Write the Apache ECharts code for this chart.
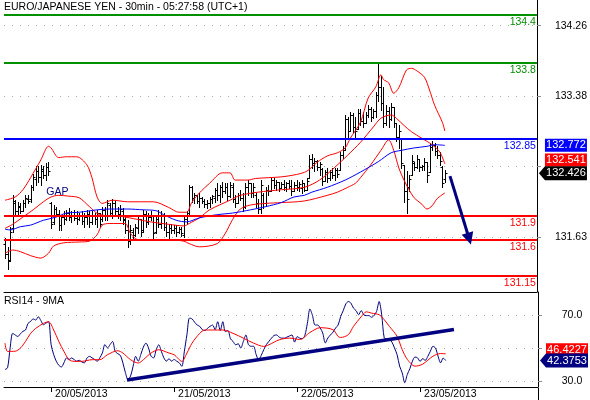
<!DOCTYPE html>
<html><head><meta charset="utf-8">
<script src="https://cdn.jsdelivr.net/npm/echarts@6/dist/echarts.min.js"></script>
<style>html,body{margin:0;padding:0;background:#fff}#c{width:590px;height:400px}</style>
</head><body><div id="c"></div>
<script>
const titleText = 'EURO/JAPANESE YEN - 30min - 05:27:58 (UTC+1)';
const rsiTitle = 'RSI14 - 9MA';
const dateLabels = ['20/05/2013', '21/05/2013', '22/05/2013', '23/05/2013'];
const dateTickIndex = [18, 66, 114, 162];
const priceTicks = [131.635, 132.51, 133.385, 134.26];
const priceLabelTicks = [131.635, 133.385, 134.26];
const rsiTicks = [30, 50, 70];
const rsiLabelTicks = [30, 70];
const levels = [134.4, 133.8, 132.85, 131.9, 131.6, 131.15];
const levelLabels = ['134.4', '133.8', '132.85', '131.9', '131.6', '131.15'];

// [open, high, low, close] per 30-min bar
const ohlc = [
[131.55,131.62,131.37,131.42],[131.42,131.51,131.24,131.33],[131.35,131.76,131.33,131.70],[131.75,132.16,131.70,132.08],
[132.05,132.09,131.89,131.95],[131.95,132.07,131.91,132.02],[132.00,132.05,131.93,131.96],[131.96,132.09,131.95,132.05],
[132.05,132.155,132.01,132.12],[132.10,132.155,132.05,132.08],[132.10,132.28,132.07,132.25],[132.25,132.42,132.22,132.38],
[132.35,132.51,132.28,132.45],[132.45,132.51,132.32,132.38],[132.38,132.53,132.28,132.48],[132.45,132.51,132.36,132.40],
[132.40,132.55,132.34,132.50],[132.50,132.57,132.40,132.45],[132.05,132.07,131.74,131.80],[131.82,132.03,131.80,131.98],
[131.98,132.01,131.89,131.92],[131.92,131.97,131.72,131.78],[131.78,131.91,131.72,131.88],[131.88,131.95,131.80,131.86],
[131.86,131.97,131.84,131.93],[131.93,131.99,131.84,131.88],[131.88,131.95,131.82,131.90],[131.90,131.97,131.84,131.87],
[131.87,131.95,131.80,131.85],[131.85,131.93,131.84,131.90],[131.90,131.95,131.80,131.83],[131.83,131.93,131.76,131.88],
[131.88,131.97,131.80,131.92],[131.92,131.95,131.76,131.82],[131.82,131.95,131.80,131.90],[131.90,131.93,131.80,131.85],
[131.85,131.97,131.76,131.93],[131.93,131.93,131.76,131.80],[131.85,132.01,131.83,131.97],[131.97,132.01,131.84,131.90],
[131.90,132.09,131.84,132.05],[132.03,132.05,131.89,131.93],[131.93,132.11,131.87,132.06],[132.06,132.08,131.91,131.95],
[131.95,132.01,131.87,131.92],[131.92,132.03,131.84,131.98],[131.96,131.99,131.80,131.84],[131.85,131.91,131.68,131.72],
[131.72,131.84,131.51,131.58],[131.58,131.78,131.55,131.72],[131.70,131.74,131.62,131.66],[131.66,131.80,131.64,131.76],
[131.74,131.89,131.68,131.85],[131.85,131.86,131.64,131.70],[131.72,131.97,131.70,131.92],[131.92,131.95,131.76,131.82],
[131.82,131.93,131.80,131.88],[131.88,131.95,131.84,131.91],[131.90,131.91,131.62,131.68],[131.70,131.91,131.68,131.85],
[131.85,131.97,131.76,131.80],[131.80,131.95,131.74,131.90],[131.90,131.93,131.72,131.76],[131.76,131.82,131.64,131.70],
[131.70,131.80,131.62,131.74],[131.74,131.80,131.68,131.72],[131.72,131.78,131.68,131.75],[131.75,131.78,131.64,131.70],
[131.70,131.76,131.68,131.73],[131.73,131.76,131.64,131.68],[131.66,131.89,131.63,131.85],[131.85,131.95,131.80,131.90],
[131.93,132.28,131.90,132.25],[132.25,132.27,132.07,132.12],[132.12,132.18,132.05,132.15],[132.15,132.16,132.05,132.08],
[132.08,132.18,132.01,132.12],[132.12,132.13,132.05,132.08],[132.08,132.11,132.01,132.04],[132.04,132.09,131.99,132.05],
[132.05,132.13,132.01,132.11],[132.11,132.16,132.05,132.14],[132.12,132.24,132.07,132.22],[132.22,132.30,132.09,132.15],
[132.15,132.28,132.07,132.25],[132.25,132.32,132.13,132.20],[132.20,132.30,132.18,132.26],[132.26,132.30,132.09,132.14],
[132.14,132.32,132.13,132.28],[132.26,132.30,132.07,132.10],[132.10,132.16,132.01,132.05],[132.05,132.18,132.05,132.15],
[132.15,132.22,132.09,132.12],[132.12,132.18,131.95,132.00],[132.00,132.30,131.99,132.25],[132.25,132.34,132.16,132.30],
[132.30,132.30,132.13,132.18],[132.18,132.30,132.13,132.26],[132.16,132.18,132.01,132.05],[132.05,132.11,131.93,131.98],
[131.98,132.34,131.93,132.28],[132.15,132.18,131.99,132.05],[132.05,132.26,132.03,132.22],[132.22,132.28,132.16,132.20],
[132.20,132.38,132.20,132.34],[132.34,132.36,132.24,132.28],[132.28,132.34,132.22,132.32],[132.32,132.32,132.20,132.24],
[132.24,132.32,132.24,132.29],[132.29,132.34,132.22,132.25],[132.25,132.32,132.20,132.30],[132.30,132.34,132.24,132.27],
[132.27,132.34,132.16,132.20],[132.20,132.32,132.20,132.28],[132.28,132.34,132.22,132.25],[132.25,132.32,132.20,132.29],
[132.24,132.34,132.18,132.30],[132.30,132.30,132.20,132.22],[132.22,132.36,132.22,132.33],[132.36,132.65,132.36,132.60],
[132.60,132.67,132.49,132.55],[132.55,132.61,132.45,132.58],[132.58,132.59,132.47,132.50],[132.50,132.57,132.40,132.54],
[132.48,132.49,132.28,132.33],[132.33,132.47,132.33,132.44],[132.44,132.49,132.32,132.36],[132.36,132.47,132.34,132.44],
[132.44,132.49,132.36,132.40],[132.40,132.49,132.34,132.46],[132.46,132.49,132.38,132.42],[132.47,132.69,132.47,132.65],
[132.65,132.76,132.61,132.72],[132.72,133.15,132.72,133.10],[133.10,133.13,132.88,132.95],[132.95,133.19,132.95,133.15],
[133.15,133.17,132.94,133.00],[133.00,133.13,132.88,132.95],[132.98,133.23,132.98,133.18],[133.18,133.23,133.03,133.08],
[133.08,133.19,133.00,133.05],[133.05,133.19,133.05,133.15],[133.15,133.27,133.13,133.22],[133.22,133.25,133.07,133.12],
[133.12,133.23,133.11,133.20],[133.20,133.44,133.13,133.40],[133.40,133.81,133.32,133.50],[133.50,133.63,133.21,133.30],
[133.30,133.50,133.00,133.05],[133.05,133.27,133.03,133.20],[133.20,133.25,133.00,133.10],[133.10,133.30,133.09,133.25],
[133.25,133.25,133.00,133.05],[133.05,133.05,132.82,132.88],[132.88,133.03,132.74,132.95],[132.86,132.86,132.49,132.55],
[132.53,132.53,132.07,132.20],[132.20,132.45,131.93,132.10],[132.25,132.40,132.20,132.35],[132.40,132.65,132.40,132.58],
[132.55,132.57,132.47,132.50],[132.50,132.65,132.49,132.60],[132.60,132.60,132.45,132.50],[132.50,132.53,132.47,132.52],
[132.52,132.61,132.47,132.56],[132.56,132.57,132.32,132.40],[132.44,132.80,132.44,132.75],[132.75,132.82,132.71,132.78],
[132.78,132.80,132.65,132.70],[132.70,132.76,132.61,132.65],[132.65,132.69,132.53,132.58],[132.50,132.51,132.26,132.30],
[132.35,132.47,132.32,132.426]
];

// Bollinger bands (20) and long moving average, [bar index, price]
const bbUpper = [[0,132.09],[4,132.13],[7,132.22],[10,132.37],[14,132.59],[17,132.76],[18,132.74],[21,132.62],[24,132.63],[28,132.63],[32,132.53],[34,132.37],[36,132.13],[38,132.05],[42,132.09],[48,132.07],[58,132.07],[64,132.0],[68,131.94],[71,131.94],[73,132.06],[76,132.18],[80,132.30],[85,132.43],[88,132.43],[90,132.34],[95,132.34],[98,132.36],[108,132.38],[114,132.41],[118,132.45],[122,132.56],[126,132.64],[130,132.68],[133,132.74],[135,132.86],[139,133.06],[142,133.36],[145,133.50],[147,133.65],[148,133.59],[150,133.55],[152,133.42],[154,133.49],[157,133.71],[159,133.73],[161,133.70],[164,133.62],[166,133.46],[168,133.27],[171,133.06],[172,132.95]];
const bbMiddle = [[0,131.74],[3,131.79],[7,131.88],[11,131.97],[15,132.07],[18,132.13],[21,132.15],[25,132.14],[29,132.12],[33,132.01],[37,131.91],[45,131.89],[52,131.85],[57,131.82],[64,131.79],[70,131.77],[72,131.80],[76,131.87],[80,131.97],[88,132.09],[92,132.15],[99,132.19],[108,132.22],[117,132.25],[123,132.34],[129,132.50],[134,132.65],[139,132.81],[144,133.0],[147,133.11],[151,133.15],[153,133.11],[156,133.02],[159,132.94],[163,132.86],[167,132.78],[170,132.69],[172,132.541]];
const bbLower = [[0,131.43],[3,131.47],[6,131.45],[10,131.40],[14,131.37],[17,131.43],[19,131.52],[23,131.56],[29,131.57],[33,131.58],[36,131.66],[38,131.78],[41,131.80],[47,131.80],[49,131.68],[52,131.60],[58,131.60],[64,131.60],[70,131.58],[72,131.55],[76,131.51],[83,131.55],[86,131.67],[89,131.85],[92,131.98],[96,132.03],[102,132.05],[108,132.06],[117,132.08],[126,132.15],[130,132.19],[134,132.25],[137,132.30],[139,132.37],[143,132.53],[147,132.71],[150,132.84],[152,132.71],[154,132.49],[156,132.34],[158,132.22],[160,132.12],[163,132.04],[165,131.98],[167,132.02],[169,132.11],[172,132.18]];
const maLong = [[0,131.73],[2,131.72],[6,131.76],[10,131.78],[15,131.84],[20,131.88],[24,131.93],[29,131.94],[36,131.97],[41,131.98],[48,131.98],[54,131.97],[59,131.96],[62,131.91],[67,131.84],[71,131.82],[76,131.87],[83,131.91],[89,131.93],[96,131.97],[102,132.01],[108,132.06],[113,132.13],[117,132.15],[120,132.19],[126,132.25],[133,132.34],[139,132.44],[146,132.57],[151,132.68],[155,132.71],[160,132.74],[165,132.76],[168,132.78],[172,132.772]];

// RSI(14) per bar and its 9-period average
const rsi = [37,38,50,58.8,57.8,56.9,58.5,60,60.8,64.8,
66,67.5,66.8,68.8,66.5,64,65,65.8,52,46,
42,39.5,38.5,41,43.9,43,43.9,43,42,42.5,
41.5,41,43.9,44.9,44,43,42,44,47,52,
50,52,53.9,47.9,46.5,45.5,41,35,31,33,
39,44.9,42,46,50.5,52.9,50,45,44,48.9,
51.9,48,44,42,43.5,42,43,42,41,38.9,
48,58,68,67.5,65.5,63.8,63,61,60.5,61.8,
63,63.8,61,65.8,60.5,65.8,59.8,60.5,55.5,53.9,
51.9,52.5,49.9,53.9,57.8,52,51,51,46,42.9,
45.5,49,52,54,55.9,57.5,57.8,56.5,55.9,55.9,
56.5,57.2,57.8,53.5,56.8,55.9,55.5,57.5,64.8,73.5,
69.5,63.8,63.8,62,59,53,56,57.8,59.5,62,
63.8,69,72.5,76.5,78,77,74,72.5,70,72.5,
70,69.5,69.5,68.5,69.5,72,78,70,56,55.5,
55,53.5,50,46,39,35,29,34,37.5,42,
44.5,44,41.9,43.5,42.5,44.9,48,51,49.9,45,
41,43.9,42.3753];
const rsiMA = [[0,52.9],[1,47.9],[4,48],[6,49.9],[8,53.9],[10,58.8],[12,61.8],[15,64.8],[17,65.8],[19,60.8],[21,53.9],[23,47.9],[25,42.9],[27,41.9],[30,41.9],[34,42.9],[37,42.9],[40,45.9],[44,48.3],[46,46.9],[49,42.9],[52,40.9],[54,42.9],[57,46.9],[60,48.9],[64,46.9],[66,45.9],[69,41.9],[71,46.9],[73,52.9],[76,58.8],[78,60.8],[81,60.8],[85,60.8],[89,58.8],[93,55.9],[97,52.9],[101,50.9],[103,51.9],[107,54.9],[111,55.9],[115,55.1],[119,59.3],[123,62.2],[128,61],[130,56.9],[131,56.3],[134,58],[136,63],[139,68.8],[141,71.8],[143,71],[146,70],[148,67],[150,63],[153,57],[155,49],[157,43.1],[160,39],[163,40.2],[167,45],[170,46.6],[172,46.4227]];

// annotations
const arrowPath = [[174, 132.39], [181.5, 131.61]];
const rsiTrend = [[47.6, 30.7], [175.2, 61.1]];
const gapNote = [20.5, 132.19];

// ---------- layout / style ----------
const FONT = 'Liberation Sans, Arial, sans-serif';
const xMin = -0.39, xMax = 208;
const pMin = 130.948, pMax = 134.58;
const rMin = 26.42, rMax = 83.73;
const levelColors = ['#009000', '#009000', '#0000ff', '#ff0000', '#ff0000', '#ff0000'];
const NAVY = '#000080';

const lastClose = ohlc[ohlc.length - 1][3];
const lastMA = maLong[maLong.length - 1][1];
const lastMid = bbMiddle[bbMiddle.length - 1][1];
const lastRsi = rsi[rsi.length - 1];
const lastRsiMA = rsiMA[rsiMA.length - 1][1];

const tagArrow = 'path://M0,7L6,0L48,0L48,14L6,14Z';

function renderOHLC(params, api) {
  const i = api.value(0);
  const pO = api.coord([i, api.value(1)]);
  const pH = api.coord([i, api.value(2)]);
  const pL = api.coord([i, api.value(3)]);
  const pC = api.coord([i, api.value(4)]);
  const x = Math.round(pH[0]) + 0.5;
  const yo = Math.round(pO[1]) + 0.5, yc = Math.round(pC[1]) + 0.5;
  const st = { stroke: '#000', lineWidth: 1 };
  return { type: 'group', children: [
    { type: 'line', shape: { x1: x, y1: Math.round(pH[1]), x2: x, y2: Math.round(pL[1]) + 1 }, style: st },
    { type: 'line', shape: { x1: x - 2, y1: yo, x2: x, y2: yo }, style: st },
    { type: 'line', shape: { x1: x, y1: yc, x2: x + 2, y2: yc }, style: st }
  ]};
}

function lineSeries(name, data, color, z, xi) {
  return { name, type: 'line', xAxisIndex: xi || 0, yAxisIndex: xi || 0, data, smooth: 0.3, symbol: 'none',
    lineStyle: { color, width: 1 }, z, silent: true };
}

function tag(coord, text, color, withArrow, dy) {
  return {
    coord, value: text,
    symbol: withArrow ? tagArrow : 'rect',
    symbolSize: withArrow ? [48, 14] : [42, 13],
    symbolOffset: withArrow ? [26, dy || 0] : [29, dy || 0],
    itemStyle: { color },
    label: { show: true, position: 'inside', offset: withArrow ? [3, 0] : [0, 0], color: '#fff',
      fontSize: 11, fontFamily: FONT, formatter: text }
  };
}

const chart = echarts.init(document.getElementById('c'), null, { renderer: 'canvas', width: 590, height: 400 });
chart.setOption({
  animation: false,
  backgroundColor: '#fff',
  textStyle: { fontFamily: FONT },
  title: [
    { text: titleText, left: 4, top: 2, padding: 0, textStyle: { fontSize: 10.5, fontWeight: 'normal', color: '#000', fontFamily: FONT } },
    { text: rsiTitle, left: 4, top: 296, padding: 0, textStyle: { fontSize: 10.5, fontWeight: 'normal', color: '#000', fontFamily: FONT } }
  ],
  graphic: [
    { type: 'line', shape: { x1: 538.5, y1: 388, x2: 538.5, y2: 400 }, style: { stroke: '#000', lineWidth: 1 }, silent: true }
  ],
  grid: [
    { left: 4, right: 52, top: 0, height: 292 },
    { left: 4, right: 52, top: 292, height: 96 }
  ],
  xAxis: [
    { gridIndex: 0, type: 'value', min: xMin, max: xMax,
      axisLine: { show: true, onZero: false, lineStyle: { color: '#000', width: 1 } },
      axisTick: { show: false }, axisLabel: { show: false }, splitLine: { show: false }, splitArea: { show: false } },
    { gridIndex: 1, type: 'value', min: xMin, max: xMax,
      axisLine: { show: true, onZero: false, lineStyle: { color: '#000', width: 1 } },
      axisTick: { show: true, customValues: dateTickIndex, length: 5, lineStyle: { color: '#000' } },
      axisLabel: { show: true, customValues: dateTickIndex, align: 'left', margin: 2, padding: [0, 0, 0, 4],
        fontSize: 10.5, color: '#000', fontFamily: FONT,
        formatter: v => dateLabels[dateTickIndex.indexOf(Math.round(v))] || '' },
      splitLine: { show: false }, splitArea: { show: false } }
  ],
  yAxis: [
    { gridIndex: 0, type: 'value', position: 'right', min: pMin, max: pMax,
      axisLine: { show: true, onZero: false, lineStyle: { color: '#000', width: 1 } },
      axisTick: { show: true, customValues: priceTicks, length: 4, lineStyle: { color: '#888' } },
      axisLabel: { show: true, customValues: priceLabelTicks, align: 'center', margin: 34, fontSize: 10.5, color: '#000', fontFamily: FONT,
        formatter: v => (Math.floor(v * 100 + 1e-6) / 100).toFixed(2) },
      splitLine: { show: true, lineStyle: { color: '#a8a8a8', type: [1, 7], width: 1 } } },
    { gridIndex: 1, type: 'value', position: 'right', min: rMin, max: rMax,
      axisLine: { show: true, onZero: false, lineStyle: { color: '#000', width: 1 } },
      axisTick: { show: true, customValues: rsiTicks, length: 4, lineStyle: { color: '#888' } },
      axisLabel: { show: true, customValues: rsiLabelTicks, align: 'center', margin: 34, fontSize: 10.5, color: '#000', fontFamily: FONT,
        formatter: v => v.toFixed(1) },
      splitLine: { show: true, lineStyle: { color: '#a8a8a8', type: [1, 7], width: 1 } } }
  ],
  series: [
    { name: 'bars', type: 'custom', xAxisIndex: 0, yAxisIndex: 0, renderItem: renderOHLC,
      data: ohlc.map((r, i) => [i, r[0], r[1], r[2], r[3]]), encode: { x: 0, y: [1, 2, 3, 4] }, z: 2, silent: true },
    lineSeries('bbUpper', bbUpper, '#ff0000', 3),
    lineSeries('bbMiddle', bbMiddle, '#ff0000', 3),
    lineSeries('bbLower', bbLower, '#ff0000', 3),
    lineSeries('maLong', maLong, '#0000ff', 4),
    { name: 'levels', type: 'line', xAxisIndex: 0, yAxisIndex: 0, data: [[xMin, null]], symbol: 'none', clip: false, z: 5, silent: true,
      lineStyle: { opacity: 0 },
      markLine: { silent: true, symbol: ['none', 'none'], animation: false,
        data: levels.map((v, k) => ({ yAxis: v,
          lineStyle: { color: levelColors[k], width: 2, type: 'solid' },
          label: { show: true, position: 'insideEndBottom', distance: [1, 2], formatter: levelLabels[k],
            color: levelColors[k], fontSize: 10.5, fontFamily: FONT } })) },
      markPoint: { silent: true, animation: false, data: [
        { coord: gapNote, symbol: 'rect', symbolSize: 1, itemStyle: { color: 'rgba(0,0,0,0)' },
          label: { show: true, position: 'inside', formatter: 'GAP', color: NAVY, fontSize: 10.5, fontFamily: FONT } },
        tag([xMax, lastMA], lastMA.toFixed(3), '#0000ff', false, 0),
        tag([xMax, lastMid], lastMid.toFixed(3), '#ff0000', false, -4),
        tag([xMax, lastClose], lastClose.toFixed(3), '#000000', true, 0)
      ] } },
    { name: 'arrow', type: 'lines', coordinateSystem: 'cartesian2d', xAxisIndex: 0, yAxisIndex: 0, z: 6, silent: true,
      data: [{ coords: arrowPath }], symbol: ['none', 'triangle'], symbolSize: 12,
      lineStyle: { color: NAVY, width: 3, curveness: 0, opacity: 1 } },
    lineSeries('rsi', rsi.map((v, i) => [i, v]), NAVY, 3, 1),
    lineSeries('rsiMA', rsiMA, '#ff0000', 3, 1),
    { name: 'rsiTrend', type: 'lines', coordinateSystem: 'cartesian2d', xAxisIndex: 1, yAxisIndex: 1, z: 6, silent: true,
      data: [{ coords: rsiTrend }], symbol: ['none', 'none'],
      lineStyle: { color: NAVY, width: 3.5, curveness: 0, opacity: 1 } },
    { name: 'rsiTags', type: 'line', xAxisIndex: 1, yAxisIndex: 1, data: [[xMin, null]], symbol: 'none', clip: false, z: 7, silent: true,
      lineStyle: { opacity: 0 },
      markPoint: { silent: true, animation: false, data: [
        tag([xMax, lastRsiMA], lastRsiMA.toFixed(4), '#ff0000', false, -4),
        tag([xMax, lastRsi], lastRsi.toFixed(4), NAVY, true, 0)
      ] } }
  ]
});
</script>
</body></html>
